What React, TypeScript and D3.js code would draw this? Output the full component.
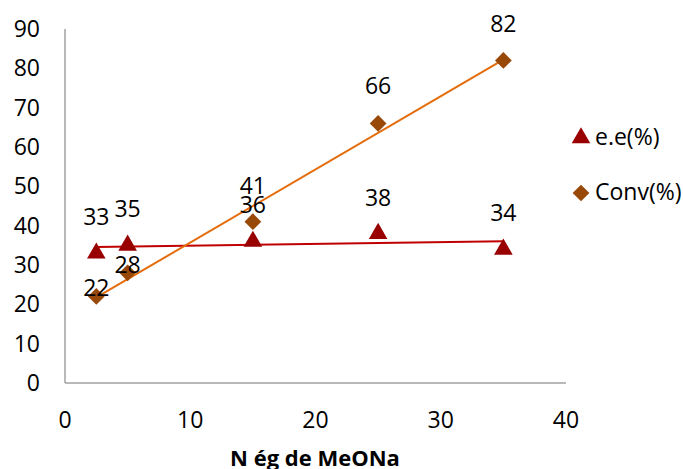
import React from "react";
import * as d3 from "d3";

const xValues = [2.5, 5, 15, 25, 35];
const eeValues = [33, 35, 36, 38, 34];
const convValues = [22, 28, 41, 66, 82];
const xTicks = [0, 10, 20, 30, 40];
const yTicks = [0, 10, 20, 30, 40, 50, 60, 70, 80, 90];
const seriesNames = ["e.e(%)", "Conv(%)"];
const xTitle = "N ég de MeONa";

function linFit(xs: number[], ys: number[]) {
  const mx = d3.mean(xs)!;
  const my = d3.mean(ys)!;
  let sxy = 0, sxx = 0;
  xs.forEach((x, i) => { sxy += (x - mx) * (ys[i] - my); sxx += (x - mx) ** 2; });
  const b = sxy / sxx;
  const a = my - b * mx;
  return (x: number) => a + b * x;
}

export default function App() {
  const W = 683, H = 469;
  const x = d3.scaleLinear().domain([0, 40]).range([65, 566]);
  const y = d3.scaleLinear().domain([0, 90]).range([383, 29]);
  const font = "Open Sans, Liberation Sans, sans-serif";
  const fs = 23;
  const eeColor = "#990000";
  const eeLine = "#C00000";
  const convColor = "#984807";
  const convLine = "#E46C0A";
  const fitEE = linFit(xValues, eeValues);
  const fitConv = linFit(xValues, convValues);
  const xmin = d3.min(xValues)!, xmax = d3.max(xValues)!;
  const line = d3.line<number>().x((d) => x(d));
  const eeLabelDy = [-36, -36, -36, -36, -36];
  const convLabelDy = [-9, -8, -36, -37, -37];
  const tri = d3.symbol().type(d3.symbolTriangle).size(150)()!;
  const dia = d3.symbol().type(d3.symbolSquare).size(140)()!;

  return (
    <svg width={W} height={H} style={{ position: "absolute", left: 0, top: 0, background: "#fff" }} fontFamily={font}>
      <line x1={x(0)} x2={x(0)} y1={y(90)} y2={y(0)} stroke="#A0A0A0" strokeWidth={1.5} />
      <line x1={x(0)} x2={x(40)} y1={y(0)} y2={y(0)} stroke="#A0A0A0" strokeWidth={1.5} />
      {yTicks.map((t) => (
        <text key={"y" + t} x={40} y={y(t)} dy="0.35em" textAnchor="end" fontSize={fs} fill="#000">{t}</text>
      ))}
      {xTicks.map((t) => (
        <text key={"x" + t} x={x(t)} y={420} dy="0.35em" textAnchor="middle" fontSize={fs} fill="#000">{t}</text>
      ))}
      <text x={315} y={466} textAnchor="middle" fontSize={22} fontWeight="bold" fill="#000">{xTitle}</text>
      <path
        d={line.y((d) => y(fitEE(d)))([xmin, xmax])!}
        stroke={eeLine} strokeWidth={2} fill="none"
      />
      <path
        d={line.y((d) => y(fitConv(d)))([xmin, xmax])!}
        stroke={convLine} strokeWidth={2} fill="none"
      />
      {xValues.map((xv, i) => (
        <path key={"e" + i} d={tri} transform={`translate(${x(xv)},${y(eeValues[i])})`} fill={eeColor} />
      ))}
      {xValues.map((xv, i) => (
        <path key={"c" + i} d={dia} transform={`translate(${x(xv)},${y(convValues[i])}) rotate(45)`} fill={convColor} />
      ))}
      {xValues.map((xv, i) => (
        <text key={"le" + i} x={x(xv)} y={y(eeValues[i]) + eeLabelDy[i]} dy="0.35em" textAnchor="middle" fontSize={fs} fill="#000">{eeValues[i]}</text>
      ))}
      {xValues.map((xv, i) => (
        <text key={"lc" + i} x={x(xv)} y={y(convValues[i]) + convLabelDy[i]} dy="0.35em" textAnchor="middle" fontSize={fs} fill="#000">{convValues[i]}</text>
      ))}
      <path d={tri} transform="translate(581,138)" fill={eeColor} />
      <text x={595} y={137} dy="0.35em" fontSize={fs} fill="#000">{seriesNames[0]}</text>
      <path d={dia} transform="translate(581,193) rotate(45)" fill={convColor} />
      <text x={595} y={192} dy="0.35em" fontSize={fs} fill="#000">{seriesNames[1]}</text>
    </svg>
  );
}
